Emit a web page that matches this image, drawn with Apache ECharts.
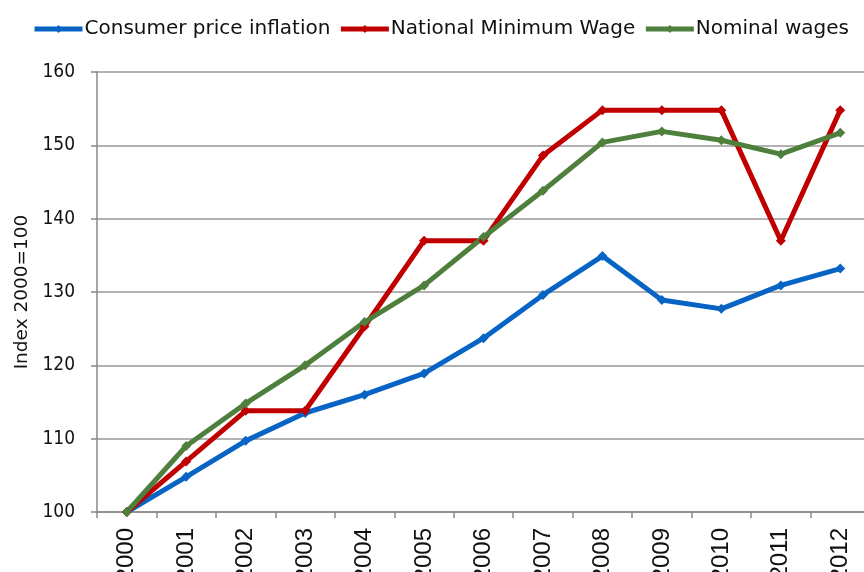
<!DOCTYPE html>
<html>
<head>
<meta charset="utf-8">
<script src="https://cdn.jsdelivr.net/npm/echarts@6/dist/echarts.min.js"></script>
<style>
  html, body { margin: 0; padding: 0; background: #fff; }
  #chart { width: 864px; height: 572px; }
</style>
</head>
<body>
<div id="chart"></div>
<script>
var years = ["2000", "2001", "2002", "2003", "2004", "2005", "2006",
  "2007", "2008", "2009", "2010", "2011", "2012"];
var cpi = [100, 104.8, 109.7, 113.5, 116.0, 118.9, 123.7, 129.6, 134.9, 128.9, 127.7, 130.9, 133.2];
var minWage = [100, 106.9, 113.8, 113.8, 125.3, 137.0, 137.0, 148.6, 154.8, 154.8, 154.8, 137.0, 154.8];
var nominal = [100, 109.0, 114.8, 120.0, 125.9, 130.9, 137.5, 143.8, 150.4, 151.9, 150.7, 148.8, 151.7];

var narrow = "'DejaVu Sans Condensed', sans-serif";
var wide = "'DejaVu Sans', sans-serif";

var chart = echarts.init(document.getElementById("chart"));

function line(name, data, color) {
  return {
    name: name,
    type: "line",
    data: data,
    symbol: "diamond",
    symbolSize: 10,
    lineStyle: { width: 5, color: color },
    itemStyle: { color: color },
    animation: false
  };
}

chart.setOption({
  animation: false,
  color: ["#0864C4", "#C00000", "#4F7F3C"],
  legend: {
    top: 14,
    left: 27,
    itemWidth: 48,
    itemHeight: 10,
    itemGap: 8,
    lineStyle: { width: 5 },
    textStyle: {
      fontFamily: wide,
      fontSize: 20,
      color: "#111",
      padding: [0, 0, 0, -3]
    },
    data: ["Consumer price inflation", "National Minimum Wage", "Nominal wages"]
  },
  grid: {
    left: 97,
    right: -6,
    top: 72,
    bottom: 60,
    outerBoundsMode: "none"
  },
  xAxis: {
    type: "category",
    data: years,
    boundaryGap: true,
    axisLine: { lineStyle: { color: "#888", width: 1.5 } },
    axisTick: { show: true, length: 6, lineStyle: { color: "#888", width: 1.5 } },
    axisLabel: {
      rotate: 90,
      fontFamily: "Liberation Sans",
      fontSize: 24,
      color: "#111",
      margin: 16,
      padding: [8, 0, 0, 0]
    }
  },
  yAxis: {
    type: "value",
    min: 100,
    max: 160,
    interval: 10,
    name: "Index 2000=100",
    nameLocation: "middle",
    nameRotate: 90,
    nameGap: 65,
    nameTextStyle: {
      fontFamily: wide,
      fontSize: 18.5,
      color: "#111"
    },
    axisLine: { show: true, lineStyle: { color: "#888", width: 1.5 } },
    axisTick: { show: true, length: 6, lineStyle: { color: "#888", width: 1.5 } },
    axisLabel: {
      fontFamily: narrow,
      fontSize: 19,
      color: "#111",
      margin: 22
    },
    splitLine: { lineStyle: { color: "#999", width: 1.5 } }
  },
  series: [
    line("Consumer price inflation", cpi, "#0864C4"),
    line("National Minimum Wage", minWage, "#C00000"),
    line("Nominal wages", nominal, "#4F7F3C")
  ]
});
</script>
</body>
</html>
